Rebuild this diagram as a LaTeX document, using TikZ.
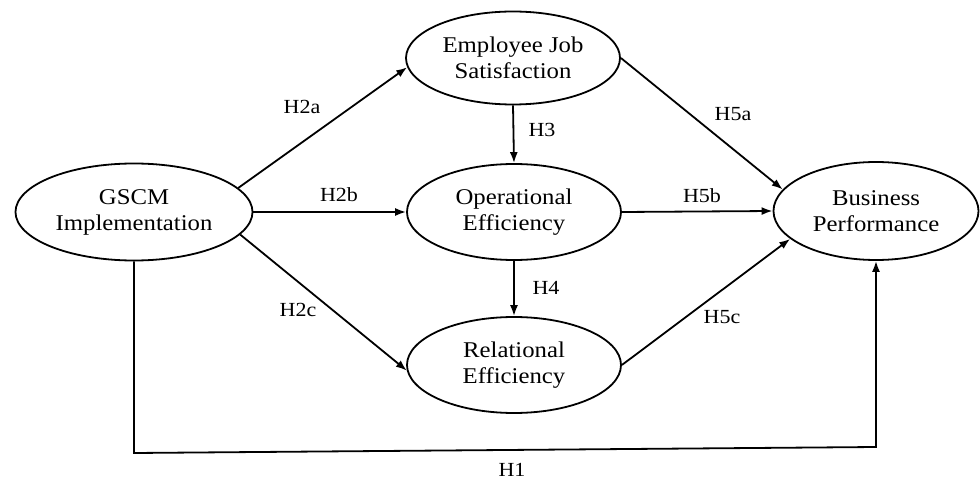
\documentclass[tikz,border=0pt]{standalone}
\usepackage{fontspec}
\setmainfont{Liberation Serif}[FakeStretch=1.1]
\usetikzlibrary{shapes.geometric,arrows.meta}
\begin{document}
\begin{tikzpicture}[x=1pt,y=-1pt,
  var/.style={draw, ellipse, line width=1.8pt, inner sep=0pt, align=center,
    font=\fontsize{22.5}{26}\selectfont},
  link/.style={line width=1.8pt, -{Latex[length=11pt,width=8pt]}},
  hyp/.style={font=\fontsize{20}{24}\selectfont, inner sep=0pt}]
\useasboundingbox (0,0) rectangle (980,481);
\node[var, minimum width=237pt, minimum height=97pt] (gscm) at (134,212) {GSCM\\Implementation};
\node[var, minimum width=214pt, minimum height=93pt] (emp) at (513,58) {Employee Job\\Satisfaction};
\node[var, minimum width=214pt, minimum height=96pt] (op) at (514,212) {Operational\\Efficiency};
\node[var, minimum width=214pt, minimum height=96pt] (rel) at (514,365) {Relational\\Efficiency};
\node[var, minimum width=205pt, minimum height=98pt] (bp) at (876,211) {Business\\Performance};

\draw[link] (gscm.13) -- (emp.185);
\draw[link] (gscm.east) -- (op.west);
\draw[link] (gscm.348) -- (rel.183);
\draw[link] (emp.south) -- (op.north);
\draw[link] (op.south) -- (rel.north);
\draw[link] (emp.east) -- (bp.167);
\draw[link] (op.east) -- (bp.west);
\draw[link] (rel.east) -- (bp.198);
\coordinate (c1) at (134,453);
\coordinate (c2) at (876,447);
\draw[link] (gscm.south) -- (c1) -- (c2) -- (bp.south);

\node[hyp] (h2a) at (302,107) {H2a};
\node[hyp] (h2b) at (339,195) {H2b};
\node[hyp] (h2c) at (298,310) {H2c};
\node[hyp] (h3) at (542,130) {H3};
\node[hyp] (h4) at (546,288) {H4};
\node[hyp] (h5a) at (733,114) {H5a};
\node[hyp] (h5b) at (702,196) {H5b};
\node[hyp] (h5c) at (722,317) {H5c};
\node[hyp] (h1) at (512,470) {H1};
\end{tikzpicture}
\end{document}
